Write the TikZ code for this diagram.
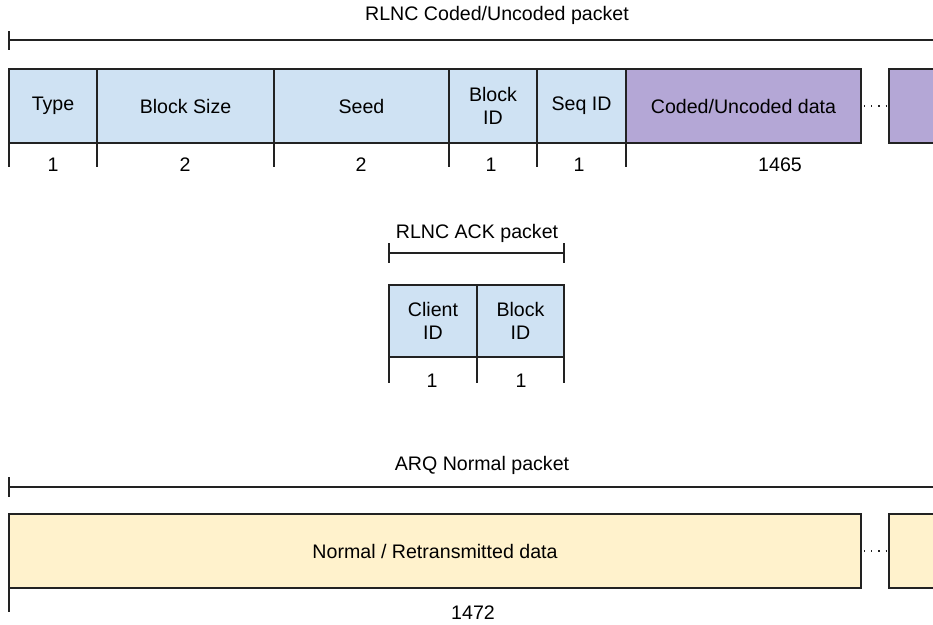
\documentclass[tikz,border=0pt]{standalone}
\usepackage{fontspec}
\setmainfont{Liberation Sans}
\definecolor{fblue}{HTML}{CFE2F3}
\definecolor{fpurple}{HTML}{B4A7D6}
\definecolor{fyellow}{HTML}{FFF2CC}
\definecolor{edge}{HTML}{222222}
\begin{document}
\begin{tikzpicture}[x=1pt,y=-1pt,
  font=\fontsize{19.6}{23}\selectfont,
  field/.style={draw=edge,line width=1.4pt,anchor=north west,inner sep=0pt,outer sep=0pt,align=center,minimum height=74pt},
  bluef/.style={field,fill=fblue},
  purplef/.style={field,fill=fpurple},
  yellowf/.style={field,fill=fyellow},
  rule/.style={draw=edge,line width=1.3pt},
  gap/.style={draw=edge,line width=1.2pt,dash pattern=on 1.2pt off 6pt,dash phase=-3pt},
  lbl/.style={inner sep=0pt}]
\clip (0,0) rectangle (933,624);
\fill[white] (0,0) rectangle (933,624);

% ---------- RLNC Coded/Uncoded packet ----------
\node[lbl] (t1) at (497,15) {RLNC Coded/Uncoded packet};
\coordinate (b1l) at (9,40); \coordinate (b1r) at (945,40);
\coordinate (b1lt) at (9,31); \coordinate (b1lb) at (9,50);
\draw[rule] (b1l) -- (b1r);
\draw[rule] (b1lt) -- (b1lb);

\node[bluef,minimum width=88pt] (type) at (9,69) {Type};
\node[bluef,minimum width=177pt] (bsize) at (97,69) {Block Size};
\node[bluef,minimum width=175pt] (seed) at (274,69) {Seed};
\node[bluef,minimum width=88pt] (bid) at (449,69) {Block\\ID};
\node[bluef,minimum width=89pt] (sid) at (537,69) {Seq ID};
\node[purplef,minimum width=235pt] (cdata) at (626,69) {Coded/Uncoded data};
\node[purplef,minimum width=80pt] (cmore) at (889,69) {};
\draw[gap] (cdata.east) -- (cmore.west);

\foreach \n in {type,bsize,seed,bid,sid,cdata}{
  \draw[rule] (\n.south west) -- ++(0,24);
}
\node[lbl] (n1) at (53,165) {1};
\node[lbl] (n2) at (185,165) {2};
\node[lbl] (n3) at (361,165) {2};
\node[lbl] (n4) at (491,165) {1};
\node[lbl] (n5) at (579,165) {1};
\node[lbl] (n6) at (780,165) {1465};

% ---------- RLNC ACK packet ----------
\node[lbl] (t2) at (477,233) {RLNC ACK packet};
\coordinate (b2l) at (389,253); \coordinate (b2r) at (564,253);
\draw[rule] (b2l) -- (b2r);
\draw[rule] (389,243) -- (389,263);
\draw[rule] (564,243) -- (564,263);

\node[bluef,minimum width=88pt,minimum height=72pt] (cid) at (389,285) {Client\\ID};
\node[bluef,minimum width=87pt,minimum height=72pt] (abid) at (477,285) {Block\\ID};
\draw[rule] (cid.south west) -- ++(0,26);
\draw[rule] (abid.south west) -- ++(0,26);
\draw[rule] (abid.south east) -- ++(0,26);
\node[lbl] (a1) at (432,381) {1};
\node[lbl] (a2) at (521,381) {1};

% ---------- ARQ Normal packet ----------
\node[lbl] (t3) at (482,465) {ARQ Normal packet};
\coordinate (b3l) at (9,487); \coordinate (b3r) at (945,487);
\draw[rule] (b3l) -- (b3r);
\draw[rule] (9,477) -- (9,497);

\node[yellowf,minimum width=852pt] (ndata) at (9,514) {Normal / Retransmitted data};
\node[yellowf,minimum width=80pt] (nmore) at (889,514) {};
\draw[gap] (ndata.east) -- (nmore.west);
\draw[rule] (ndata.south west) -- ++(0,24);
\node[lbl] (r1) at (473,613) {1472};
\end{tikzpicture}
\end{document}
